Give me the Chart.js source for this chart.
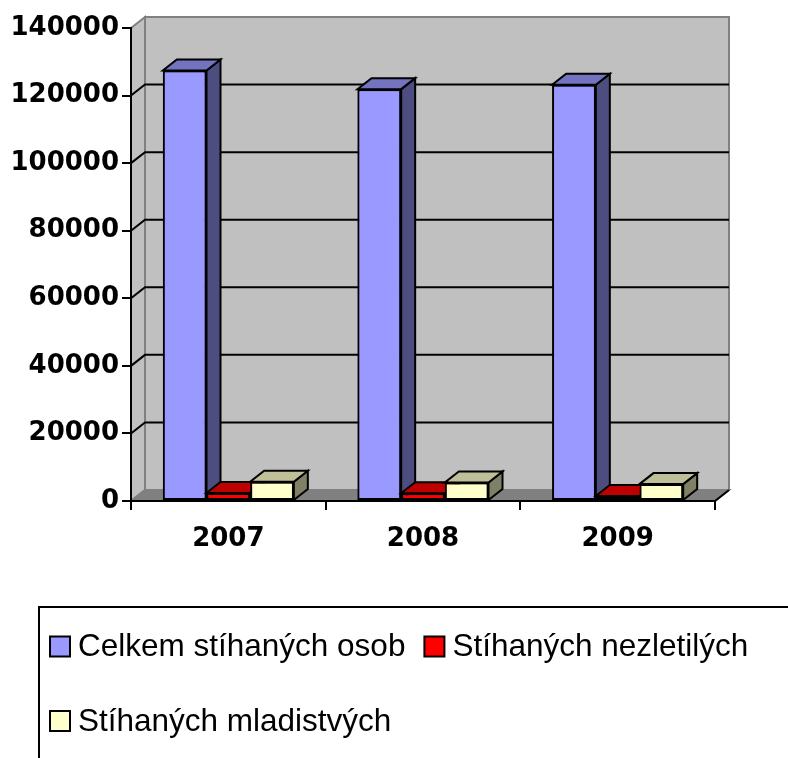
<!DOCTYPE html>
<html>
<head>
<meta charset="utf-8">
<script src="https://cdn.jsdelivr.net/npm/chart.js@4/dist/chart.umd.min.js"></script>
<style>
  html, body { margin: 0; padding: 0; background: #ffffff; }
  canvas { display: block; }
</style>
</head>
<body>
<canvas id="c" width="788" height="758"></canvas>
<script>
// ---- data ----
const categories = ['2007', '2008', '2009'];
const seriesNames = ['Celkem stíhaných osob', 'Stíhaných nezletilých', 'Stíhaných mladistvých'];
const celkemStihanychOsob = [127400, 121900, 123200];
const stihanychNezletilych = [2400, 2300, 1500];
const stihanychMladistvych = [5700, 5500, 5000];
const yTickValues = [0, 20000, 40000, 60000, 80000, 100000, 120000, 140000];
const yTickLabels = ['0', '20000', '40000', '60000', '80000', '100000', '120000', '140000'];

// ---- styles ----
const frontColors = ['#9999FF', '#FF0000', '#FFFFCC'];
const topColors = ['#7373BF', '#BF0000', '#BFBF99'];
const sideColors = ['#4D4D80', '#800000', '#808066'];
const DX = 14, DY = -11;

function poly(ctx, pts, fill, stroke, lw) {
  ctx.beginPath();
  ctx.moveTo(pts[0][0], pts[0][1]);
  for (let i = 1; i < pts.length; i++) ctx.lineTo(pts[i][0], pts[i][1]);
  ctx.closePath();
  if (fill) { ctx.fillStyle = fill; ctx.fill(); }
  if (stroke) { ctx.strokeStyle = stroke; ctx.lineWidth = lw || 2; ctx.stroke(); }
}

const wallsPlugin = {
  id: 'walls',
  beforeDraw(chart) {
    const ctx = chart.ctx;
    const a = chart.chartArea;
    const ys = chart.scales.y;
    const L = a.left, R = a.right, T = a.top, B = a.bottom;
    ctx.save();
    ctx.lineJoin = 'miter';
    poly(ctx, [[L, T], [L + DX, T + DY], [L + DX, B + DY], [L, B]], '#C0C0C0', '#808080', 2);
    poly(ctx, [[L + DX, T + DY], [R + DX, T + DY], [R + DX, B + DY], [L + DX, B + DY]], '#C0C0C0', '#808080', 2);
    poly(ctx, [[L, B], [R, B], [R + DX, B + DY], [L + DX, B + DY]], '#808080', '#808080', 2);
    ctx.beginPath();
    ctx.moveTo(R, B); ctx.lineTo(R + DX, B + DY);
    ctx.strokeStyle = '#000'; ctx.lineWidth = 2; ctx.stroke();
    yTickValues.forEach(v => {
      if (v === ys.min || v === ys.max) return;
      const y = ys.getPixelForValue(v);
      ctx.beginPath();
      ctx.moveTo(L, y);
      ctx.lineTo(L + DX, y + DY);
      ctx.lineTo(R + DX, y + DY);
      ctx.strokeStyle = '#000';
      ctx.lineWidth = 2;
      ctx.stroke();
    });
    ctx.restore();
  },
  afterDatasetsDraw(chart) {
    const ctx = chart.ctx;
    ctx.save();
    ctx.lineJoin = 'miter';
    const nCat = chart.data.labels.length;
    for (let c = 0; c < nCat; c++) {
      chart.data.datasets.forEach((ds, idx) => {
        const meta = chart.getDatasetMeta(idx);
        const el = meta.data[c];
        if (!el) return;
        const p = el.getProps(['x', 'y', 'base', 'width'], true);
        const l = p.x - p.width / 2, r = p.x + p.width / 2;
        const top = Math.min(p.y, p.base), bot = Math.max(p.y, p.base);
        el.draw(ctx);
        poly(ctx, [[r, top], [r + DX, top + DY], [r + DX, bot + DY], [r, bot]], sideColors[idx], '#000', 2);
        poly(ctx, [[l, top], [r, top], [r + DX, top + DY], [l + DX, top + DY]], topColors[idx], '#000', 2);
      });
    }
    ctx.restore();
  }
};

const legendPlugin = {
  id: 'boxLegend',
  afterDraw(chart) {
    const ctx = chart.ctx;
    ctx.save();
    ctx.beginPath();
    ctx.moveTo(39, 770);
    ctx.lineTo(39, 607);
    ctx.lineTo(800, 607);
    ctx.strokeStyle = '#000';
    ctx.lineWidth = 2;
    ctx.stroke();

    ctx.font = '31.5px "Liberation Sans", Arial, sans-serif';
    ctx.textBaseline = 'middle';
    ctx.textAlign = 'left';
    const startX = 50, box = 20, gap = 8, itemGap = 19, maxX = 775;
    let x = startX, y = 646.5;
    chart.data.datasets.forEach((ds) => {
      const tw = ctx.measureText(ds.label).width;
      const w = box + gap + tw;
      if (x !== startX && x + w > maxX) { x = startX; y += 74.5; }
      ctx.fillStyle = ds.backgroundColor;
      ctx.fillRect(x, y - box / 2, box, box);
      ctx.strokeStyle = '#000';
      ctx.lineWidth = 2;
      ctx.strokeRect(x, y - box / 2, box, box);
      ctx.fillStyle = '#000';
      ctx.fillText(ds.label, x + box + gap, y + 1);
      x += w + itemGap;
    });
    ctx.restore();
  }
};

const seriesValues = [celkemStihanychOsob, stihanychNezletilych, stihanychMladistvych];
const datasets = seriesValues.map((vals, i) => ({
  label: seriesNames[i],
  data: vals,
  backgroundColor: frontColors[i],
  borderColor: '#000',
  borderWidth: 2,
  borderSkipped: false,
  categoryPercentage: 0.673,
  barPercentage: 1.0
}));

const tickFont = { family: '"DejaVu Sans", sans-serif', weight: 'bold', size: 26 };

new Chart(document.getElementById('c'), {
  type: 'bar',
  data: { labels: categories, datasets },
  plugins: [wallsPlugin, legendPlugin],
  options: {
    responsive: false,
    devicePixelRatio: 1,
    animation: false,
    layout: { padding: { top: 28, right: 73, left: 0, bottom: 0 } },
    plugins: { legend: { display: false }, tooltip: { enabled: false } },
    scales: {
      x: {
        type: 'category',
        offset: true,
        grid: { offset: true, drawOnChartArea: false, drawTicks: true, tickLength: 9, color: '#000', lineWidth: 2 },
        border: { display: true, color: '#000', width: 2 },
        ticks: { font: tickFont, color: '#000', padding: 14, maxRotation: 0 },
        afterFit: s => { s.height = 257; }
      },
      y: {
        min: 0,
        max: 140000,
        afterBuildTicks: s => { s.ticks = yTickValues.map(v => ({ value: v })); },
        grid: { drawOnChartArea: false, drawTicks: true, tickLength: 9, color: '#000', lineWidth: 2 },
        border: { display: true, color: '#000', width: 2 },
        ticks: {
          font: tickFont, color: '#000', padding: 3,
          callback: (v) => yTickLabels[yTickValues.indexOf(v)]
        },
        afterFit: s => { s.width = 131; }
      }
    }
  }
});
</script>
</body>
</html>
